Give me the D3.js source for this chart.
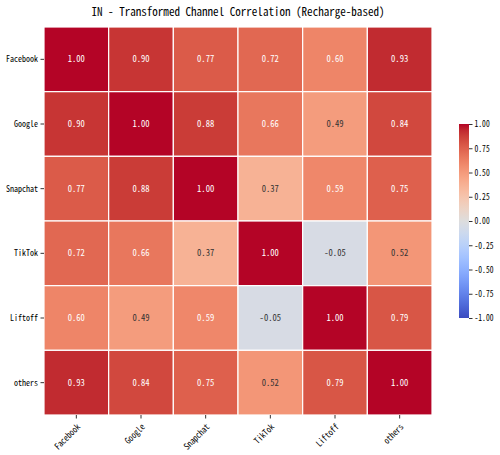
<!DOCTYPE html>
<html>
<head>
<meta charset="utf-8">
<script src="https://cdn.jsdelivr.net/npm/d3@7"></script>
<style>
  body { margin: 0; background: #fff; }
  text { font-family: "Noto Sans Mono CJK SC", "DejaVu Sans Mono", monospace; }
</style>
</head>
<body>
<script>
var channels = ["Facebook", "Google", "Snapchat", "TikTok", "Liftoff", "others"];
var corr = [
  [1.00, 0.90, 0.77, 0.72, 0.60, 0.93],
  [0.90, 1.00, 0.88, 0.66, 0.49, 0.84],
  [0.77, 0.88, 1.00, 0.37, 0.59, 0.75],
  [0.72, 0.66, 0.37, 1.00, -0.05, 0.52],
  [0.60, 0.49, 0.59, -0.05, 1.00, 0.79],
  [0.93, 0.84, 0.75, 0.52, 0.79, 1.00]
];
var cbTicks = [1.00, 0.75, 0.50, 0.25, 0.00, -0.25, -0.50, -0.75, -1.00];
var title = "IN - Transformed Channel Correlation (Recharge-based)";

// matplotlib coolwarm, sampled
var coolwarmStops = [
  [59,76,192],[68,90,204],[77,104,215],[87,117,225],[98,130,234],[108,142,241],
  [119,154,247],[130,165,251],[141,176,254],[152,185,255],[163,194,255],[174,201,253],
  [184,208,249],[194,213,244],[204,217,238],[213,219,230],[221,221,221],[229,216,209],
  [236,211,197],[241,204,185],[245,196,173],[247,187,160],[247,177,148],[247,166,135],
  [244,154,123],[241,141,111],[236,127,99],[229,112,88],[222,96,77],[213,80,66],
  [203,62,56],[192,40,47],[180,4,38]
];

var W = 500, H = 455;
var mLeft = 44, mTop = 27, size = 388;
var labelFont = "Noto Sans Mono CJK SC, DejaVu Sans Mono, monospace";

// half-width look: fix each glyph's advance
function squeeze(sel, perChar) {
  sel.attr("textLength", function () { return this.textContent.length * perChar; })
     .attr("lengthAdjust", "spacingAndGlyphs");
}

var svg = d3.select("body").append("svg")
  .attr("width", W).attr("height", H);

var color = d3.scaleLinear()
  .domain(d3.range(coolwarmStops.length).map(function (i) { return -1 + 2 * i / (coolwarmStops.length - 1); }))
  .range(coolwarmStops.map(function (c) { return "rgb(" + c.join(",") + ")"; }))
  .clamp(true);

function textColor(v) {
  var c = d3.rgb(color(v));
  var lin = [c.r, c.g, c.b].map(function (u) {
    u /= 255;
    return u <= 0.03928 ? u / 12.92 : Math.pow((u + 0.055) / 1.055, 2.4);
  });
  var lum = 0.2126 * lin[0] + 0.7152 * lin[1] + 0.0722 * lin[2];
  return lum > 0.408 ? "#333333" : "#ffffff";
}

var x = d3.scaleBand().domain(channels).range([mLeft, mLeft + size]);
var y = d3.scaleBand().domain(channels).range([mTop, mTop + size]);

svg.append("text")
  .attr("x", 238).attr("y", 16)
  .attr("text-anchor", "middle")
  .style("font-size", "11.5px")
  .attr("textLength", 293).attr("lengthAdjust", "spacingAndGlyphs")
  .text(title);

var cells = [];
corr.forEach(function (row, i) {
  row.forEach(function (v, j) { cells.push({ r: channels[i], c: channels[j], v: v }); });
});

svg.selectAll(".cell")
  .data(cells).enter().append("rect")
    .attr("class", "cell")
    .attr("x", function (d) { return x(d.c); })
    .attr("y", function (d) { return y(d.r); })
    .attr("width", x.bandwidth())
    .attr("height", y.bandwidth())
    .style("fill", function (d) { return color(d.v); })
    .style("stroke", "#fff")
    .style("stroke-width", 1.2);

svg.selectAll(".lbl")
  .data(cells).enter().append("text")
    .attr("class", "lbl")
    .attr("x", function (d) { return x(d.c) + x.bandwidth() / 2; })
    .attr("y", function (d) { return y(d.r) + y.bandwidth() / 2; })
    .attr("text-anchor", "middle")
    .attr("dy", "0.35em")
    .style("font-size", "9px")
    .style("fill", function (d) { return textColor(d.v); })
    .text(function (d) { return d.v.toFixed(2); })
    .call(squeeze, 4.3);

// y axis
var yAxis = svg.append("g")
  .attr("transform", "translate(" + mLeft + ",0)")
  .call(d3.axisLeft(y).tickSize(3.5).tickPadding(2.5));
yAxis.select(".domain").remove();
yAxis.selectAll("line").attr("stroke", "#333");
yAxis.selectAll("text").style("font-size", "9px").style("font-family", labelFont).attr("fill", "#000")
  .call(squeeze, 4.0);

// x axis
var xAxis = svg.append("g")
  .attr("transform", "translate(0," + (mTop + size) + ")")
  .call(d3.axisBottom(x).tickSize(3.5).tickPadding(3));
xAxis.select(".domain").remove();
xAxis.selectAll("line").attr("stroke", "#333");
xAxis.selectAll("text")
  .style("font-size", "9px").style("font-family", labelFont).attr("fill", "#000")
  .attr("text-anchor", "end")
  .attr("dy", "0.3em")
  .attr("transform", "translate(-2,6) rotate(-45)")
  .call(squeeze, 4.0);

// colorbar
var cbX = 459, cbW = 10, cbTop = 124, cbBot = 318;
var cbScale = d3.scaleLinear().domain([-1, 1]).range([cbBot, cbTop]);
var defs = svg.append("defs");
var grad = defs.append("linearGradient").attr("id", "cw")
  .attr("x1", "0").attr("y1", "1").attr("x2", "0").attr("y2", "0");
coolwarmStops.forEach(function (c, i) {
  grad.append("stop")
    .attr("offset", i / (coolwarmStops.length - 1))
    .attr("stop-color", "rgb(" + c.join(",") + ")");
});
svg.append("rect")
  .attr("x", cbX).attr("y", cbTop)
  .attr("width", cbW).attr("height", cbBot - cbTop)
  .style("fill", "url(#cw)");

var cbAxis = svg.append("g")
  .attr("transform", "translate(" + (cbX + cbW) + ",0)")
  .call(d3.axisRight(cbScale).tickValues(cbTicks).tickSize(3.5).tickPadding(2)
    .tickFormat(function (d) { return d.toFixed(2); }));
cbAxis.select(".domain").remove();
cbAxis.selectAll("line").attr("stroke", "#333");
cbAxis.selectAll("text").style("font-size", "9px").style("font-family", labelFont).attr("fill", "#000")
  .call(squeeze, 3.8);
</script>
</body>
</html>
